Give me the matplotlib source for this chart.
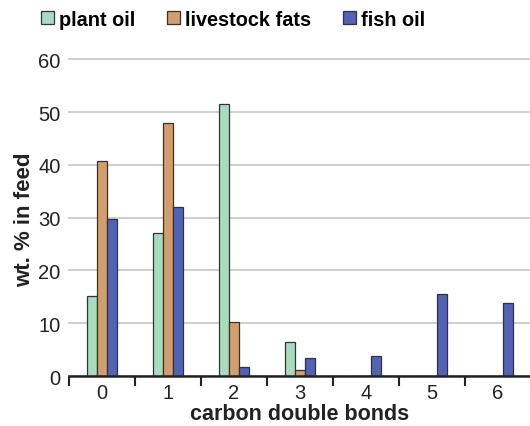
import matplotlib
matplotlib.use("Agg")
import matplotlib.pyplot as plt
import numpy as np

categories = ["0", "1", "2", "3", "4", "5", "6"]
plant_oil = [15.2, 27.0, 51.5, 6.4, 0, 0, 0]
livestock_fats = [40.8, 48.0, 10.2, 1.2, 0, 0, 0]
fish_oil = [29.8, 32.0, 1.8, 3.5, 3.8, 15.6, 13.8]
series_names = ["plant oil", "livestock fats", "fish oil"]
colors = ["#a9dcbf", "#d39e6d", "#5263b5"]
yticks = [0, 10, 20, 30, 40, 50, 60]

plt.rcParams['font.family'] = ['Liberation Sans', 'DejaVu Sans']

fig = plt.figure(figsize=(5.30, 4.27), dpi=100)
ax = fig.add_axes([0.130, 0.117, 0.872, 0.742])

x = np.arange(len(categories))
w = 0.148
for i, (vals, name, c) in enumerate(zip([plant_oil, livestock_fats, fish_oil], series_names, colors)):
    ax.bar(x + (i - 1) * w, vals, width=w, color=c, edgecolor="#333333", linewidth=0.9,
           label=name, zorder=3)

ax.set_xlim(-0.5, len(categories) - 0.5)
ax.set_ylim(0, 60)
ax.set_yticks(yticks)
ax.set_yticklabels([str(t) for t in yticks], fontsize=14.5, color="#222222")
ax.set_xticks(x)
ax.set_xticklabels(categories, fontsize=14.5, color="#222222")
ax.tick_params(axis='x', length=0, pad=5)
ax.tick_params(axis='y', length=0, pad=6)
ax.set_xticks(np.arange(-0.5, len(categories), 1), minor=True)
ax.tick_params(axis='x', which='minor', length=7, width=1.5, direction='out', color='#222222')

for s in ["top", "right", "left"]:
    ax.spines[s].set_visible(False)
ax.spines["bottom"].set_linewidth(1.8)
ax.spines["bottom"].set_color("#222222")
ax.spines["bottom"].set_zorder(4)

ax.yaxis.grid(True, color="#cccccc", linewidth=1.3, zorder=0)
ax.set_axisbelow(True)
for gl in ax.get_ygridlines():
    gl.set_clip_on(False)

fig.text(25 / 530, 1 - 220 / 427, "wt. % in feed", rotation=90, ha="center", va="center",
         fontsize=16, fontweight="bold", color="#222222")
fig.text(300 / 530, 2 / 427, "carbon double bonds", ha="center", va="bottom",
         fontsize=15.5, fontweight="bold", color="#222222")

leg = fig.legend(loc="center left", bbox_to_anchor=(41 / 530, 1 - 20 / 427), ncol=3, frameon=False,
                 prop={"size": 14.3, "weight": "bold"}, handlelength=0.65, handleheight=0.65,
                 handletextpad=0.25, columnspacing=1.6, borderpad=0, borderaxespad=0)

fig.savefig("out.png", dpi=100)
